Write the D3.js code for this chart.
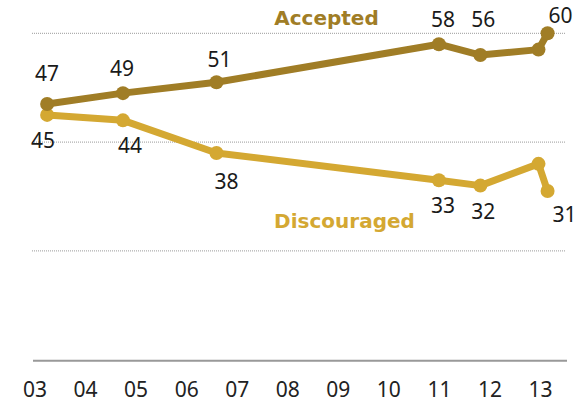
<!DOCTYPE html>
<html>
<head>
<meta charset="utf-8">
<script src="https://cdn.jsdelivr.net/npm/d3@7"></script>
<style>
  html, body { margin: 0; padding: 0; background: #fff; }
  svg { display: block; }
</style>
</head>
<body>
<svg id="chart" width="587" height="403"></svg>
<script>
// ---- Data ----
const yearTicks = [2003, 2004, 2005, 2006, 2007, 2008, 2009, 2010, 2011, 2012, 2013];
const tickLabels = ["03", "04", "05", "06", "07", "08", "09", "10", "11", "12", "13"];
const surveyDates = [2003.25, 2004.75, 2006.6, 2011.0, 2011.82, 2012.97, 2013.15];
const accepted    = [47, 49, 51, 58, 56, 57, 60];
const discouraged = [45, 44, 38, 33, 32, 36, 31];
const acceptedLabeled    = [true, true, true, true, true, false, true];
const discouragedLabeled = [true, true, true, true, true, false, true];
const gridValues = [20, 40, 60];
const seriesNames = ["Accepted", "Discouraged"];

// ---- Layout ----
const svg = d3.select("#chart");
const x = d3.scaleLinear().domain([2003, 2013]).range([34.5, 540]);
const y = d3.scaleLinear().domain([0, 60]).range([359.7, 33.3]);
const plotLeft = 32, plotRight = 566;

const colA = "#a07d26";
const colD = "#d4a832";
const numFont = "'Noto Sans', sans-serif";

// gridlines
svg.append("g").selectAll("line").data(gridValues).join("line")
  .attr("x1", plotLeft).attr("x2", plotRight)
  .attr("y1", d => y(d)).attr("y2", d => y(d))
  .attr("stroke", "#9a9a9a").attr("stroke-width", 1)
  .attr("stroke-dasharray", "1,1");

// baseline
svg.append("line")
  .attr("x1", 33).attr("x2", 567)
  .attr("y1", y(0) + 1).attr("y2", y(0) + 1)
  .attr("stroke", "#999").attr("stroke-width", 2);

// x axis tick labels
const xAxis = d3.axisBottom(x).tickValues(yearTicks)
  .tickFormat((d, i) => tickLabels[i]).tickSize(0).tickPadding(0);
const gx = svg.append("g").attr("transform", "translate(0,383)").call(xAxis);
gx.select(".domain").remove();
gx.selectAll("text")
  .attr("dy", null).attr("y", 14)
  .style("font-family", numFont).style("font-size", "21px").attr("fill", "#222");

function drawSeries(vals, color) {
  const pts = vals.map((v, i) => [surveyDates[i], v]);
  const line = d3.line().x(d => x(d[0])).y(d => y(d[1]));
  svg.append("path").datum(pts)
    .attr("d", line).attr("fill", "none")
    .attr("stroke", color).attr("stroke-width", 7)
    .attr("stroke-linejoin", "round").attr("stroke-linecap", "round");
  svg.append("g").selectAll("circle").data(pts).join("circle")
    .attr("cx", d => x(d[0])).attr("cy", d => y(d[1])).attr("r", 7)
    .attr("fill", color);
}
drawSeries(discouraged, colD);
drawSeries(accepted, colA);

// value labels (nudges are layout, per point)
const nudgeA = [[0, -23], [-1, -17], [3, -15], [4, -17], [3, -28], [0, 0], [13, -10]];
const nudgeD = [[-4, 33], [7, 33], [10, 36], [4, 33], [3, 33], [0, 0], [17, 31]];
function drawLabels(vals, flags, nudge) {
  svg.append("g").selectAll("text")
    .data(vals.map((v, i) => ({ v, i })).filter(d => flags[d.i]))
    .join("text")
    .attr("x", d => x(surveyDates[d.i]) + nudge[d.i][0])
    .attr("y", d => y(d.v) + nudge[d.i][1])
    .attr("text-anchor", "middle")
    .style("font-family", numFont).style("font-size", "21px")
    .attr("fill", "#1a1a1a")
    .text(d => d.v);
}
drawLabels(accepted, acceptedLabeled, nudgeA);
drawLabels(discouraged, discouragedLabeled, nudgeD);

// series names
svg.append("text").attr("x", 326.5).attr("y", 25).attr("text-anchor", "middle")
  .style("font-family", "DejaVu Sans, sans-serif").style("font-weight", "bold")
  .style("font-size", "20px").attr("fill", colA).text(seriesNames[0]);
svg.append("text").attr("x", 344.5).attr("y", 228).attr("text-anchor", "middle")
  .style("font-family", "DejaVu Sans, sans-serif").style("font-weight", "bold")
  .style("font-size", "20px").attr("fill", colD).text(seriesNames[1]);
</script>
</body>
</html>
